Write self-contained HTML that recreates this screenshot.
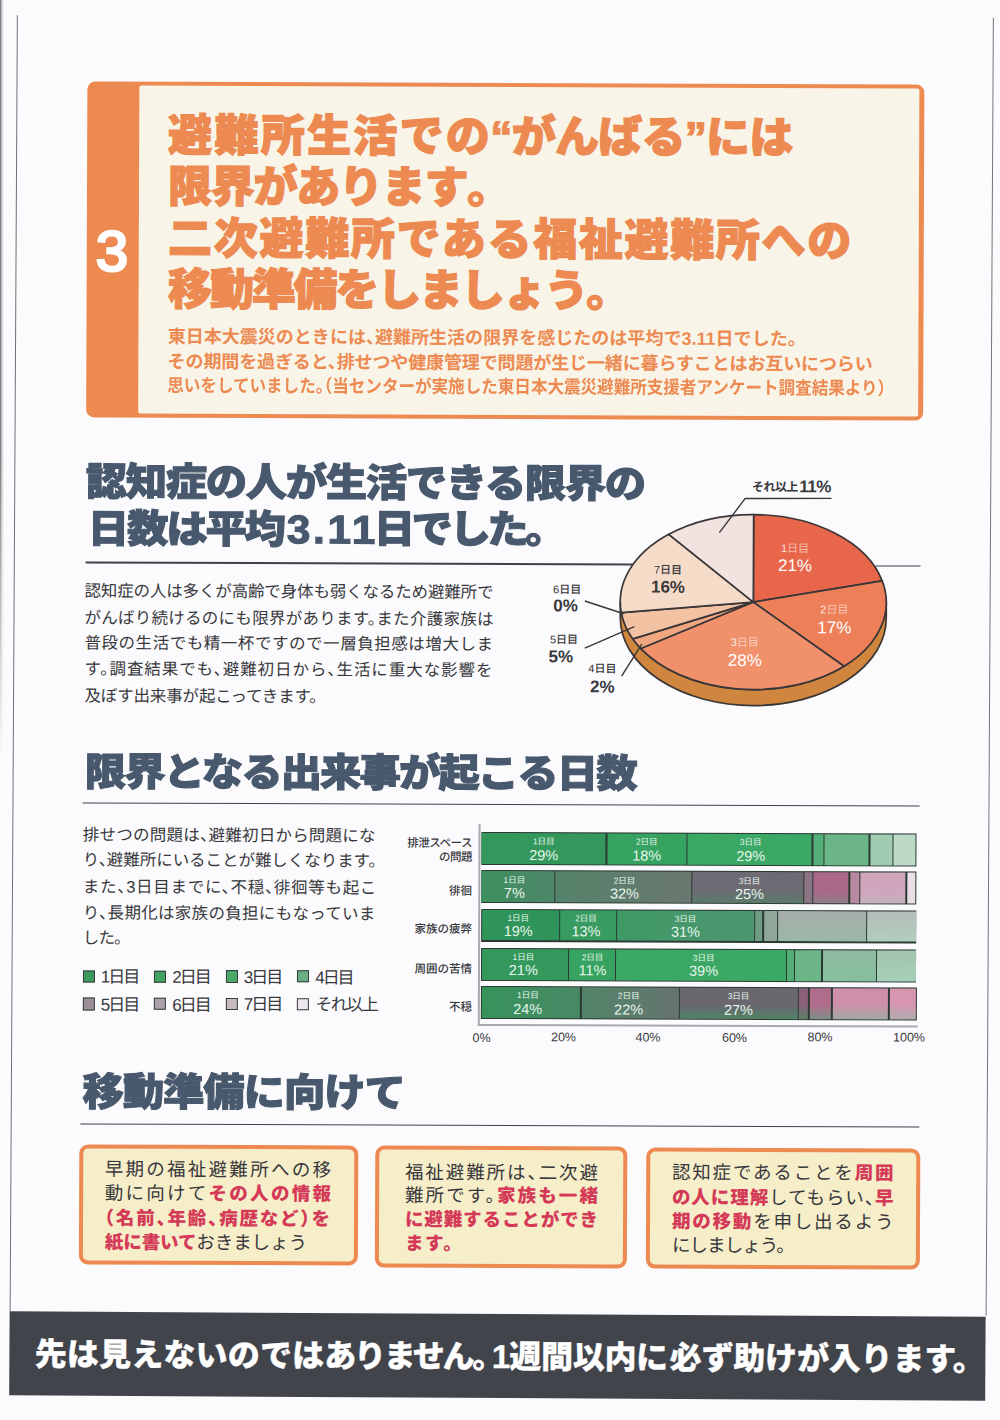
<!DOCTYPE html>
<html lang="ja"><head><meta charset="utf-8"><title>福祉避難所への移動準備</title>
<style>
html,body{margin:0;padding:0;}
body{width:1000px;height:1420px;overflow:hidden;background:#fbfbfd;font-family:"Liberation Sans","Noto Sans CJK JP",sans-serif;}
#page,#frame{position:absolute;left:0;top:0;width:1000px;height:1420px;transform:rotate(0.22deg);transform-origin:500px 710px;}
#frame{transform:rotate(0.32deg);}
.abs{position:absolute;}
.t{position:absolute;white-space:nowrap;font-family:"Liberation Sans","Noto Sans CJK JP",sans-serif;text-spacing-trim:space-all;}
.h{font-feature-settings:"halt";}
.hp{font-feature-settings:"halt";}
.q{font-feature-settings:"halt";}
b.r{color:#d43a57;font-weight:900;}
.bl{width:80px;text-align:center;color:#e6f6ec;font-weight:400;}
.bl+.bl{}
.cat{left:-109px;width:100px;text-align:right;font-size:11.5px;color:#38383c;font-weight:500;}
</style></head><body>
<div id="page">
<div class="abs" style="left:84.74px;top:82.68px;width:837.00px;height:336.60px;background:#ed8a52;border-radius:8px;"></div>
<div class="abs" style="left:136.74px;top:87.49px;width:780.00px;height:327.20px;background:#f8f5e8;border-radius:2px;"></div>
<div class="t " id="L0" style="left:94.28px;top:212.20px;font-size:56.5px;font-weight:500;color:#fdfdff;line-height:82px;letter-spacing:0px;-webkit-text-stroke:2.6px #fdfdff;transform:scaleX(1.03);transform-origin:0 50%;">3</div>
<div class="t " id="L1" style="left:165.97px;top:104.57px;font-size:44px;font-weight:900;color:#ed8a52;line-height:64px;letter-spacing:2.273px;-webkit-text-stroke:1.3px #ed8a52;">避難所生活での</div>
<div class="t " id="L2" style="left:488.19px;top:104.54px;font-size:44px;font-weight:900;color:#ed8a52;line-height:64px;letter-spacing:-0.714px;-webkit-text-stroke:1.3px #ed8a52;"><span class="q">“</span>がんばる<span class="q">”</span>には</div>
<div class="t " id="L3" style="left:166.17px;top:156.27px;font-size:44px;font-weight:900;color:#ed8a52;line-height:64px;letter-spacing:-1.266px;-webkit-text-stroke:1.3px #ed8a52;">限界があります<span class="hp">。</span></div>
<div class="t " id="L4" style="left:166.37px;top:207.97px;font-size:44px;font-weight:900;color:#ed8a52;line-height:64px;letter-spacing:1.684px;-webkit-text-stroke:1.3px #ed8a52;">二次避難所である福祉避難所への</div>
<div class="t " id="L5" style="left:166.56px;top:258.57px;font-size:44px;font-weight:900;color:#ed8a52;line-height:64px;letter-spacing:-2.186px;-webkit-text-stroke:1.3px #ed8a52;">移動準備をしましょう<span class="hp">。</span></div>
<div class="t h" id="L6" style="left:166.23px;top:324.96px;font-size:18px;font-weight:700;color:#ed8a52;line-height:27px;letter-spacing:0.028px;">東日本大震災のときには、避難所生活の限界を感じたのは平均で3.11日でした。</div>
<div class="t h" id="L7" style="left:166.32px;top:349.66px;font-size:18px;font-weight:700;color:#ed8a52;line-height:27px;letter-spacing:-0.124px;">その期間を過ぎると、排せつや健康管理で問題が生じ一緒に暮らすことはお互いにつらい</div>
<div class="t h" id="L8" style="left:166.42px;top:374.26px;font-size:18px;font-weight:700;color:#ed8a52;line-height:27px;letter-spacing:-0.007px;transform:scaleX(0.92);transform-origin:0 50%;">思いをしていました。（当センターが実施した東日本大震災避難所支援者アンケート調査結果より）</div>
<div class="t " id="L9" style="left:85.45px;top:455.31px;font-size:39px;font-weight:900;color:#48586d;line-height:57px;letter-spacing:-1.278px;-webkit-text-stroke:1.1px #48586d;transform:scaleX(1.06);transform-origin:0 50%;">認知症の人が生活できる限界の</div>
<div class="t " id="L10" style="left:87.13px;top:501.70px;font-size:39px;font-weight:900;color:#48586d;line-height:57px;letter-spacing:-1.976px;-webkit-text-stroke:1.1px #48586d;transform:scaleX(1.06);transform-origin:0 50%;">日数は平均</div>
<div class="t " id="L11" style="left:285.50px;top:500.50px;font-size:40px;font-weight:900;color:#48586d;line-height:58px;letter-spacing:2.643px;-webkit-text-stroke:1.1px #48586d;transform:scaleX(1.06);transform-origin:0 50%;">3.11</div>
<div class="t " id="L12" style="left:372.63px;top:500.61px;font-size:39px;font-weight:900;color:#48586d;line-height:57px;letter-spacing:-3.237px;-webkit-text-stroke:1.1px #48586d;transform:scaleX(1.06);transform-origin:0 50%;">日でした<span class="hp">。</span></div>
<div class="abs" style="left:85.44px;top:563.44px;width:547.00px;height:1.40px;background:#3f4249;"></div>
<div class="abs" style="left:874.94px;top:563.77px;width:45.50px;height:1.40px;background:#3f4249;"></div>
<div class="t h" id="L13" style="left:84.05px;top:580.49px;font-size:16.5px;font-weight:400;color:#38383c;line-height:24px;letter-spacing:-0.146px;">認知症の人は多くが高齢で身体も弱くなるため避難所で</div>
<div class="t h" id="L14" style="left:84.15px;top:606.79px;font-size:16.5px;font-weight:400;color:#38383c;line-height:24px;letter-spacing:0.266px;">がんばり続けるのにも限界があります。また介護家族は</div>
<div class="t h" id="L15" style="left:84.25px;top:632.39px;font-size:16.5px;font-weight:400;color:#38383c;line-height:24px;letter-spacing:0.543px;">普段の生活でも精一杯ですので一層負担感は増大しま</div>
<div class="t h" id="L16" style="left:84.35px;top:658.39px;font-size:16.5px;font-weight:400;color:#38383c;line-height:24px;letter-spacing:0.933px;">す。調査結果でも、避難初日から、生活に重大な影響を</div>
<div class="t h" id="L17" style="left:84.45px;top:684.89px;font-size:16.5px;font-weight:400;color:#38383c;line-height:24px;letter-spacing:-0.154px;">及ぼす出来事が起こってきます。</div>
<svg class="abs" style="left:0;top:0" width="1000" height="1420" viewBox="0 0 1000 1420">
<path d="M619.9,601.1 A133,87.5 0 0 0 885.9,601.1 L885.9,617.1 A133,87.5 0 0 1 619.9,617.1 Z" fill="#d0863f" stroke="#3a3638" stroke-width="1.7"/>
<path d="M752.9,601.1 L752.9,513.6 A133,87.5 0 0 1 881.7,579.4 Z" fill="#e8674b" stroke="#3a3638" stroke-width="1.7" stroke-linejoin="round"/>
<path d="M752.9,601.1 L881.7,579.4 A133,87.5 0 0 1 843.9,664.9 Z" fill="#ee8059" stroke="#3a3638" stroke-width="1.7" stroke-linejoin="round"/>
<path d="M752.9,601.1 L843.9,664.9 A133,87.5 0 0 1 640.6,648.0 Z" fill="#f0916b" stroke="#3a3638" stroke-width="1.7" stroke-linejoin="round"/>
<path d="M752.9,601.1 L640.6,648.0 A133,87.5 0 0 1 632.5,638.4 Z" fill="#f0a780" stroke="#3a3638" stroke-width="1.7" stroke-linejoin="round"/>
<path d="M752.9,601.1 L632.5,638.4 A133,87.5 0 0 1 620.9,612.1 Z" fill="#f3c2a2" stroke="#3a3638" stroke-width="1.7" stroke-linejoin="round"/>
<path d="M752.9,601.1 L620.9,612.1 A133,87.5 0 0 1 668.1,533.7 Z" fill="#f5dcc9" stroke="#3a3638" stroke-width="1.7" stroke-linejoin="round"/>
<path d="M752.9,601.1 L668.1,533.7 A133,87.5 0 0 1 752.9,513.6 Z" fill="#f1e4e0" stroke="#3a3638" stroke-width="1.7" stroke-linejoin="round"/>
<g stroke="#3a3638" stroke-width="1.4" fill="none">
<path d="M830.7,497.1 L744.4,497.5 L718.7,531.8"/>
<path d="M584.4,600.7 L623.4,613.3"/>
<path d="M584.6,647.7 L634.1,626.1"/>
<path d="M621.5,675.7 L641.5,643.7"/>
</g></svg>
<div class="t" style="left:734.37px;width:120px;text-align:center;top:539.07px;font-size:11px;line-height:16px;font-weight:300;color:rgba(255,255,255,.82);">1日目</div>
<div class="t" style="left:734.44px;width:120px;text-align:center;top:552.49px;font-size:17px;line-height:25px;font-weight:500;color:#fff;">21%</div>
<div class="t" style="left:774.01px;width:120px;text-align:center;top:600.32px;font-size:11px;line-height:16px;font-weight:300;color:rgba(255,255,255,.82);">2日目</div>
<div class="t" style="left:774.08px;width:120px;text-align:center;top:613.74px;font-size:17px;line-height:25px;font-weight:500;color:#fff;">17%</div>
<div class="t" style="left:684.53px;width:120px;text-align:center;top:632.66px;font-size:11px;line-height:16px;font-weight:300;color:rgba(255,255,255,.82);">3日目</div>
<div class="t" style="left:684.60px;width:120px;text-align:center;top:646.69px;font-size:17px;line-height:25px;font-weight:500;color:#fff;">28%</div>
<div class="t" style="left:607.46px;width:120px;text-align:center;top:560.96px;font-size:11px;line-height:16px;font-weight:500;color:#38383c;">7日目</div>
<div class="t" style="left:607.52px;width:120px;text-align:center;top:574.38px;font-size:17px;line-height:25px;font-weight:700;color:#38383c;">16%</div>
<div class="t" style="left:506.73px;width:120px;text-align:center;top:580.54px;font-size:11px;line-height:16px;font-weight:500;color:#38383c;">6日目</div>
<div class="t" style="left:505.20px;width:120px;text-align:center;top:592.98px;font-size:17px;line-height:25px;font-weight:700;color:#38383c;">0%</div>
<div class="t" style="left:503.73px;width:120px;text-align:center;top:631.15px;font-size:11px;line-height:16px;font-weight:500;color:#38383c;">5日目</div>
<div class="t" style="left:500.59px;width:120px;text-align:center;top:644.19px;font-size:17px;line-height:25px;font-weight:700;color:#38383c;">5%</div>
<div class="t" style="left:542.24px;width:120px;text-align:center;top:660.41px;font-size:11px;line-height:16px;font-weight:500;color:#38383c;">4日目</div>
<div class="t" style="left:542.31px;width:120px;text-align:center;top:673.83px;font-size:17px;line-height:25px;font-weight:700;color:#38383c;">2%</div>
<div class="t " id="L18" style="left:751.28px;top:477.19px;font-size:12px;font-weight:700;color:#38383c;line-height:18px;letter-spacing:-0.599px;">それ以上</div>
<div class="t " id="L19" style="left:798.30px;top:472.78px;font-size:17px;font-weight:700;color:#38383c;line-height:25px;letter-spacing:-0.457px;">11%</div>
<div class="t " id="L20" style="left:84.66px;top:745.12px;font-size:39px;font-weight:900;color:#48586d;line-height:57px;letter-spacing:-1.792px;-webkit-text-stroke:1.1px #48586d;transform:scaleX(1.06);transform-origin:0 50%;">限界となる出来事が起こる日数</div>
<div class="abs" style="left:82.86px;top:803.69px;width:837.50px;height:1.40px;background:#3f4249;"></div>
<div class="t h" id="L21" style="left:83.38px;top:823.70px;font-size:16.5px;font-weight:400;color:#38383c;line-height:24px;letter-spacing:0.232px;">排せつの問題は、避難初日から問題にな</div>
<div class="t h" id="L22" style="left:83.48px;top:849.30px;font-size:16.5px;font-weight:400;color:#38383c;line-height:24px;letter-spacing:-0.051px;">り、避難所にいることが難しくなります。</div>
<div class="t h" id="L23" style="left:83.58px;top:875.50px;font-size:16.5px;font-weight:400;color:#38383c;line-height:24px;letter-spacing:0.697px;">また、3日目までに、不穏、徘徊等も起こ</div>
<div class="t h" id="L24" style="left:83.68px;top:901.50px;font-size:16.5px;font-weight:400;color:#38383c;line-height:24px;letter-spacing:0.307px;">り、長期化は家族の負担にもなっていま</div>
<div class="t h" id="L25" style="left:83.78px;top:927.30px;font-size:16.5px;font-weight:400;color:#38383c;line-height:24px;letter-spacing:-0.880px;">した。</div>
<div class="abs" style="left:83.53px;top:971.98px;width:12.20px;height:12.20px;background:#3c9a5e;border:1.3px solid #3a3a3c;box-sizing:border-box;"></div>
<div class="t " id="L26" style="left:101.85px;top:966.45px;font-size:17px;font-weight:400;color:#38383c;line-height:25px;letter-spacing:-2.054px;">1日目</div>
<div class="abs" style="left:155.03px;top:971.70px;width:12.20px;height:12.20px;background:#42a264;border:1.3px solid #3a3a3c;box-sizing:border-box;"></div>
<div class="t " id="L27" style="left:173.35px;top:966.18px;font-size:17px;font-weight:400;color:#38383c;line-height:25px;letter-spacing:-2.054px;">2日目</div>
<div class="abs" style="left:226.53px;top:971.43px;width:12.20px;height:12.20px;background:#49a86a;border:1.3px solid #3a3a3c;box-sizing:border-box;"></div>
<div class="t " id="L28" style="left:244.85px;top:965.91px;font-size:17px;font-weight:400;color:#38383c;line-height:25px;letter-spacing:-2.054px;">3日目</div>
<div class="abs" style="left:298.02px;top:971.15px;width:12.20px;height:12.20px;background:#68b083;border:1.3px solid #3a3a3c;box-sizing:border-box;"></div>
<div class="t " id="L29" style="left:316.34px;top:965.63px;font-size:17px;font-weight:400;color:#38383c;line-height:25px;letter-spacing:-2.054px;">4日目</div>
<div class="abs" style="left:83.63px;top:999.48px;width:12.20px;height:12.20px;background:#9b8e97;border:1.3px solid #3a3a3c;box-sizing:border-box;"></div>
<div class="t " id="L30" style="left:101.95px;top:993.95px;font-size:17px;font-weight:400;color:#38383c;line-height:25px;letter-spacing:-2.054px;">5日目</div>
<div class="abs" style="left:155.13px;top:999.20px;width:12.20px;height:12.20px;background:#ada1a9;border:1.3px solid #3a3a3c;box-sizing:border-box;"></div>
<div class="t " id="L31" style="left:173.45px;top:993.68px;font-size:17px;font-weight:400;color:#38383c;line-height:25px;letter-spacing:-2.054px;">6日目</div>
<div class="abs" style="left:226.63px;top:998.93px;width:12.20px;height:12.20px;background:#c6b9c0;border:1.3px solid #3a3a3c;box-sizing:border-box;"></div>
<div class="t " id="L32" style="left:244.95px;top:993.41px;font-size:17px;font-weight:400;color:#38383c;line-height:25px;letter-spacing:-2.054px;">7日目</div>
<div class="abs" style="left:298.13px;top:998.65px;width:12.20px;height:12.20px;background:#ece7ef;border:1.3px solid #3a3a3c;box-sizing:border-box;"></div>
<div class="t " id="L33" style="left:316.45px;top:993.13px;font-size:17px;font-weight:400;color:#38383c;line-height:25px;letter-spacing:-1.547px;">それ以上</div>
<div class="abs" style="left:478.83px;top:824.08px;width:2.60px;height:202.00px;background:#a9a9b0;"></div>
<div class="abs" style="left:479.21px;top:1024.04px;width:440.00px;height:2.40px;background:#a9a9b0;"></div>
<div class="abs" style="left:481.53px;top:832.00px;width:435.5px;height:33.2px;background:#2b3932;"><div class="abs" style="left:0.75px;top:1.3px;width:124.00px;height:30.6px;background:#34985d;"></div><div class="t bl" style="left:22.75px;top:3.4px;font-size:8.5px;line-height:12px;">1日目</div><div class="t bl" style="left:22.75px;top:12.5px;font-size:14.5px;line-height:21px;">29%</div><div class="abs" style="left:126.25px;top:1.3px;width:79.00px;height:30.6px;background:#36a360;"></div><div class="t bl" style="left:125.75px;top:3.4px;font-size:8.5px;line-height:12px;">2日目</div><div class="t bl" style="left:125.75px;top:12.5px;font-size:14.5px;line-height:21px;">18%</div><div class="abs" style="left:206.75px;top:1.3px;width:124.00px;height:30.6px;background:#3ba865;"></div><div class="t bl" style="left:229.75px;top:3.4px;font-size:8.5px;line-height:12px;">3日目</div><div class="t bl" style="left:229.75px;top:12.5px;font-size:14.5px;line-height:21px;">29%</div><div class="abs" style="left:332.25px;top:1.3px;width:10.00px;height:30.6px;background:#54ae78;"></div><div class="abs" style="left:343.75px;top:1.3px;width:44.00px;height:30.6px;background:#6cb588;"></div><div class="abs" style="left:389.25px;top:1.3px;width:22.00px;height:30.6px;background:#a0ccb1;"></div><div class="abs" style="left:412.75px;top:1.3px;width:22.00px;height:30.6px;background:#bddac9;"></div><div class="t cat" style="top:5.200000000000001px;line-height:13.4px;letter-spacing:-0.5px;">排泄スペース<br>の問題</div></div>
<div class="abs" style="left:481.68px;top:870.20px;width:435.5px;height:33.2px;background:#2b3932;"><div class="abs" style="left:0.75px;top:1.3px;width:72.50px;height:30.6px;background:linear-gradient(90deg,#3d8f5e,#4f866a);"></div><div class="t bl" style="left:-6.60px;top:3.4px;font-size:8.5px;line-height:12px;">1日目</div><div class="t bl" style="left:-6.60px;top:12.5px;font-size:14.5px;line-height:21px;">7%</div><div class="abs" style="left:74.75px;top:1.3px;width:135.50px;height:30.6px;background:linear-gradient(90deg,#55836a,#6a7770);"></div><div class="t bl" style="left:103.50px;top:3.4px;font-size:8.5px;line-height:12px;">2日目</div><div class="t bl" style="left:103.50px;top:12.5px;font-size:14.5px;line-height:21px;">32%</div><div class="abs" style="left:211.75px;top:1.3px;width:110.50px;height:30.6px;background:linear-gradient(180deg,#6d6a74 55%,#5a7a6a);"></div><div class="t bl" style="left:228.50px;top:3.4px;font-size:8.5px;line-height:12px;">3日目</div><div class="t bl" style="left:228.50px;top:12.5px;font-size:14.5px;line-height:21px;">25%</div><div class="abs" style="left:323.75px;top:1.3px;width:7.50px;height:30.6px;background:#8b7484;"></div><div class="abs" style="left:332.75px;top:1.3px;width:35.00px;height:30.6px;background:linear-gradient(180deg,#a9688a 60%,#8f8088);"></div><div class="abs" style="left:369.25px;top:1.3px;width:9.00px;height:30.6px;background:#b88aa1;"></div><div class="abs" style="left:379.75px;top:1.3px;width:45.00px;height:30.6px;background:linear-gradient(180deg,#d0a6bc 65%,#c4b4bc);"></div><div class="abs" style="left:426.25px;top:1.3px;width:8.50px;height:30.6px;background:#e9e0e8;"></div><div class="t cat" style="top:12.8px;line-height:17px;">徘徊</div></div>
<div class="abs" style="left:481.83px;top:908.60px;width:435.5px;height:33.2px;background:#2b3932;"><div class="abs" style="left:0.75px;top:1.3px;width:77.00px;height:30.6px;background:#2f945a;"></div><div class="t bl" style="left:-2.75px;top:3.4px;font-size:8.5px;line-height:12px;">1日目</div><div class="t bl" style="left:-2.75px;top:12.5px;font-size:14.5px;line-height:21px;">19%</div><div class="abs" style="left:79.25px;top:1.3px;width:55.50px;height:30.6px;background:#389b61;"></div><div class="t bl" style="left:65.00px;top:3.4px;font-size:8.5px;line-height:12px;">2日目</div><div class="t bl" style="left:65.00px;top:12.5px;font-size:14.5px;line-height:21px;">13%</div><div class="abs" style="left:136.25px;top:1.3px;width:136.50px;height:30.6px;background:linear-gradient(90deg,#3f9966,#4d9670);"></div><div class="t bl" style="left:164.50px;top:3.4px;font-size:8.5px;line-height:12px;">3日目</div><div class="t bl" style="left:164.50px;top:12.5px;font-size:14.5px;line-height:21px;">31%</div><div class="abs" style="left:274.25px;top:1.3px;width:7.00px;height:30.6px;background:#6f9c84;"></div><div class="abs" style="left:282.75px;top:1.3px;width:13.00px;height:30.6px;background:#8ea79a;"></div><div class="abs" style="left:297.25px;top:1.3px;width:87.50px;height:30.6px;background:linear-gradient(180deg,#a7aeac,#98b8a6);"></div><div class="abs" style="left:386.25px;top:1.3px;width:48.50px;height:30.6px;background:linear-gradient(180deg,#b3bcb8,#b2cdbd);"></div><div class="t cat" style="top:12.8px;line-height:17px;">家族の疲弊</div></div>
<div class="abs" style="left:481.98px;top:947.80px;width:435.5px;height:33.2px;background:#2b3932;"><div class="abs" style="left:0.75px;top:1.3px;width:86.00px;height:30.6px;background:#34985d;"></div><div class="t bl" style="left:2.35px;top:3.4px;font-size:8.5px;line-height:12px;">1日目</div><div class="t bl" style="left:2.35px;top:12.5px;font-size:14.5px;line-height:21px;">21%</div><div class="abs" style="left:88.25px;top:1.3px;width:45.50px;height:30.6px;background:#36a360;"></div><div class="t bl" style="left:71.50px;top:3.4px;font-size:8.5px;line-height:12px;">2日目</div><div class="t bl" style="left:71.50px;top:12.5px;font-size:14.5px;line-height:21px;">11%</div><div class="abs" style="left:135.25px;top:1.3px;width:169.50px;height:30.6px;background:#3ba865;"></div><div class="t bl" style="left:182.60px;top:3.4px;font-size:8.5px;line-height:12px;">3日目</div><div class="t bl" style="left:182.60px;top:12.5px;font-size:14.5px;line-height:21px;">39%</div><div class="abs" style="left:306.25px;top:1.3px;width:6.50px;height:30.6px;background:#54ae78;"></div><div class="abs" style="left:314.25px;top:1.3px;width:26.00px;height:30.6px;background:#6cb588;"></div><div class="abs" style="left:341.75px;top:1.3px;width:53.00px;height:30.6px;background:linear-gradient(180deg,#8eb9a0,#86c09d);"></div><div class="abs" style="left:396.25px;top:1.3px;width:38.50px;height:30.6px;background:linear-gradient(180deg,#a4c4b2,#a6d0b8);"></div><div class="t cat" style="top:12.8px;line-height:17px;">周囲の苦情</div></div>
<div class="abs" style="left:482.12px;top:986.00px;width:435.5px;height:33.2px;background:#2b3932;"><div class="abs" style="left:0.75px;top:1.3px;width:98.50px;height:30.6px;background:linear-gradient(90deg,#35935b,#4a8865);"></div><div class="t bl" style="left:6.80px;top:3.4px;font-size:8.5px;line-height:12px;">1日目</div><div class="t bl" style="left:6.80px;top:12.5px;font-size:14.5px;line-height:21px;">24%</div><div class="abs" style="left:100.75px;top:1.3px;width:97.00px;height:30.6px;background:linear-gradient(90deg,#52846a,#66746e);"></div><div class="t bl" style="left:107.65px;top:3.4px;font-size:8.5px;line-height:12px;">2日目</div><div class="t bl" style="left:107.65px;top:12.5px;font-size:14.5px;line-height:21px;">22%</div><div class="abs" style="left:199.25px;top:1.3px;width:117.50px;height:30.6px;background:linear-gradient(180deg,#6a676f 55%,#4f8266);"></div><div class="t bl" style="left:217.50px;top:3.4px;font-size:8.5px;line-height:12px;">3日目</div><div class="t bl" style="left:217.50px;top:12.5px;font-size:14.5px;line-height:21px;">27%</div><div class="abs" style="left:318.25px;top:1.3px;width:9.00px;height:30.6px;background:linear-gradient(180deg,#8c5f79 50%,#5a8068);"></div><div class="abs" style="left:328.75px;top:1.3px;width:21.50px;height:30.6px;background:linear-gradient(180deg,#b06c8b 55%,#7f9088);"></div><div class="abs" style="left:351.75px;top:1.3px;width:55.50px;height:30.6px;background:linear-gradient(180deg,#cf8fab 50%,#a3a7a4);"></div><div class="abs" style="left:408.75px;top:1.3px;width:26.00px;height:30.6px;background:linear-gradient(180deg,#d795b0 50%,#b0acae);"></div><div class="t cat" style="top:12.8px;line-height:17px;">不穏</div></div>
<div class="t" style="left:422.76px;width:120px;text-align:center;top:1028.65px;font-size:12.5px;line-height:19px;font-weight:500;color:#38383c;">0%</div>
<div class="t" style="left:504.76px;width:120px;text-align:center;top:1028.34px;font-size:12.5px;line-height:19px;font-weight:500;color:#38383c;">20%</div>
<div class="t" style="left:589.26px;width:120px;text-align:center;top:1028.01px;font-size:12.5px;line-height:19px;font-weight:500;color:#38383c;">40%</div>
<div class="t" style="left:675.76px;width:120px;text-align:center;top:1027.68px;font-size:12.5px;line-height:19px;font-weight:500;color:#38383c;">60%</div>
<div class="t" style="left:761.25px;width:120px;text-align:center;top:1027.35px;font-size:12.5px;line-height:19px;font-weight:500;color:#38383c;">80%</div>
<div class="t" style="left:850.25px;width:120px;text-align:center;top:1027.01px;font-size:12.5px;line-height:19px;font-weight:500;color:#38383c;">100%</div>
<div class="t " id="L34" style="left:84.19px;top:1065.42px;font-size:39px;font-weight:900;color:#48586d;line-height:57px;letter-spacing:-0.997px;-webkit-text-stroke:1.1px #48586d;transform:scaleX(1.06);transform-origin:0 50%;">移動準備に向けて</div>
<div class="abs" style="left:82.10px;top:1124.70px;width:838.50px;height:1.40px;background:#3f4249;"></div>
<div class="abs" style="left:80.90px;top:1145.68px;width:279.60px;height:120.60px;background:#f6edc9;border:4.6px solid #ed8a52;border-radius:9px;box-sizing:border-box;"></div>
<div class="abs" style="left:377.31px;top:1146.39px;width:251.40px;height:121.20px;background:#f6edc9;border:4.6px solid #ed8a52;border-radius:9px;box-sizing:border-box;"></div>
<div class="abs" style="left:647.71px;top:1146.71px;width:274.40px;height:120.80px;background:#f6edc9;border:4.6px solid #ed8a52;border-radius:9px;box-sizing:border-box;"></div>
<div class="t h" id="L35" style="left:106.61px;top:1157.02px;font-size:18.5px;font-weight:400;color:#38383c;line-height:27px;letter-spacing:2.259px;">早期の福祉避難所への移</div>
<div class="t h" id="L36" style="left:106.70px;top:1181.32px;font-size:18.5px;font-weight:400;color:#38383c;line-height:27px;letter-spacing:2.258px;">動に向けて<b class="r">その人の情報</b></div>
<div class="t h" id="L37" style="left:106.79px;top:1205.82px;font-size:18.5px;font-weight:400;color:#38383c;line-height:27px;letter-spacing:1.800px;"><b class="r">（名前、年齢、病歴など）を</b></div>
<div class="t h" id="L38" style="left:106.89px;top:1230.02px;font-size:18.5px;font-weight:400;color:#38383c;line-height:27px;letter-spacing:-0.086px;"><b class="r">紙に書いて</b>おきましょう</div>
<div class="t h" id="L39" style="left:406.71px;top:1158.57px;font-size:18.5px;font-weight:400;color:#38383c;line-height:27px;letter-spacing:1.927px;">福祉避難所は、二次避</div>
<div class="t h" id="L40" style="left:406.81px;top:1182.27px;font-size:18.5px;font-weight:400;color:#38383c;line-height:27px;letter-spacing:2.132px;">難所です。<b class="r">家族も一緒</b></div>
<div class="t h" id="L41" style="left:406.90px;top:1206.27px;font-size:18.5px;font-weight:400;color:#38383c;line-height:27px;letter-spacing:0.899px;"><b class="r">に避難することができ</b></div>
<div class="t h" id="L42" style="left:406.99px;top:1230.27px;font-size:18.5px;font-weight:400;color:#38383c;line-height:27px;letter-spacing:1.602px;"><b class="r">ます。</b></div>
<div class="t h" id="L43" style="left:673.72px;top:1158.44px;font-size:18.5px;font-weight:400;color:#38383c;line-height:27px;letter-spacing:1.827px;">認知症であることを<b class="r">周囲</b></div>
<div class="t h" id="L44" style="left:673.81px;top:1183.34px;font-size:18.5px;font-weight:400;color:#38383c;line-height:27px;letter-spacing:0.936px;"><b class="r">の人に理解</b>してもらい、<b class="r">早</b></div>
<div class="t h" id="L45" style="left:673.90px;top:1207.34px;font-size:18.5px;font-weight:400;color:#38383c;line-height:27px;letter-spacing:1.808px;"><b class="r">期の移動</b>を申し出るよう</div>
<div class="t h" id="L46" style="left:674.00px;top:1231.34px;font-size:18.5px;font-weight:400;color:#38383c;line-height:27px;letter-spacing:-0.924px;">にしましょう。</div>
</div><div id="frame">
<div class="abs" style="left:13.11px;top:1313.80px;width:976.00px;height:84.00px;background:#42444b;"></div>
<div class="t h" id="L47" style="left:38.34px;top:1333.73px;font-size:32px;font-weight:900;color:#fff;line-height:47px;letter-spacing:0.175px;-webkit-text-stroke:0.3px #fff;">先は見えないのでは</div>
<div class="t h" id="L48" style="left:327.94px;top:1333.61px;font-size:32px;font-weight:900;color:#fff;line-height:47px;letter-spacing:-2.225px;-webkit-text-stroke:0.3px #fff;">ありません。</div>
<div class="t " id="L49" style="left:495.35px;top:1333.13px;font-size:33px;font-weight:900;color:#fff;line-height:48px;letter-spacing:0px;-webkit-text-stroke:0.3px #fff;">1</div>
<div class="t h" id="L50" style="left:513.05px;top:1333.78px;font-size:32px;font-weight:900;color:#fff;line-height:47px;letter-spacing:-0.324px;-webkit-text-stroke:0.3px #fff;">週間以内に</div>
<div class="t h" id="L51" style="left:673.25px;top:1334.48px;font-size:32px;font-weight:900;color:#fff;line-height:47px;letter-spacing:-0.166px;-webkit-text-stroke:0.3px #fff;">必ず助けが入ります。</div>
<div class="abs" style="left:12.95px;top:17.72px;width:1.10px;height:1296.00px;background:#6f6f76;"></div>
<div class="abs" style="left:989.10px;top:15.26px;width:1.10px;height:1298.00px;background:#74747c;"></div>
</div><div class="abs" style="left:0;top:0;width:4px;height:760px;background:linear-gradient(90deg,rgba(70,70,76,.85),rgba(70,70,76,.25) 45%,rgba(70,70,76,0));-webkit-mask-image:linear-gradient(180deg,#000 60%,transparent);mask-image:linear-gradient(180deg,#000 60%,transparent);">
</div>
</body></html>
